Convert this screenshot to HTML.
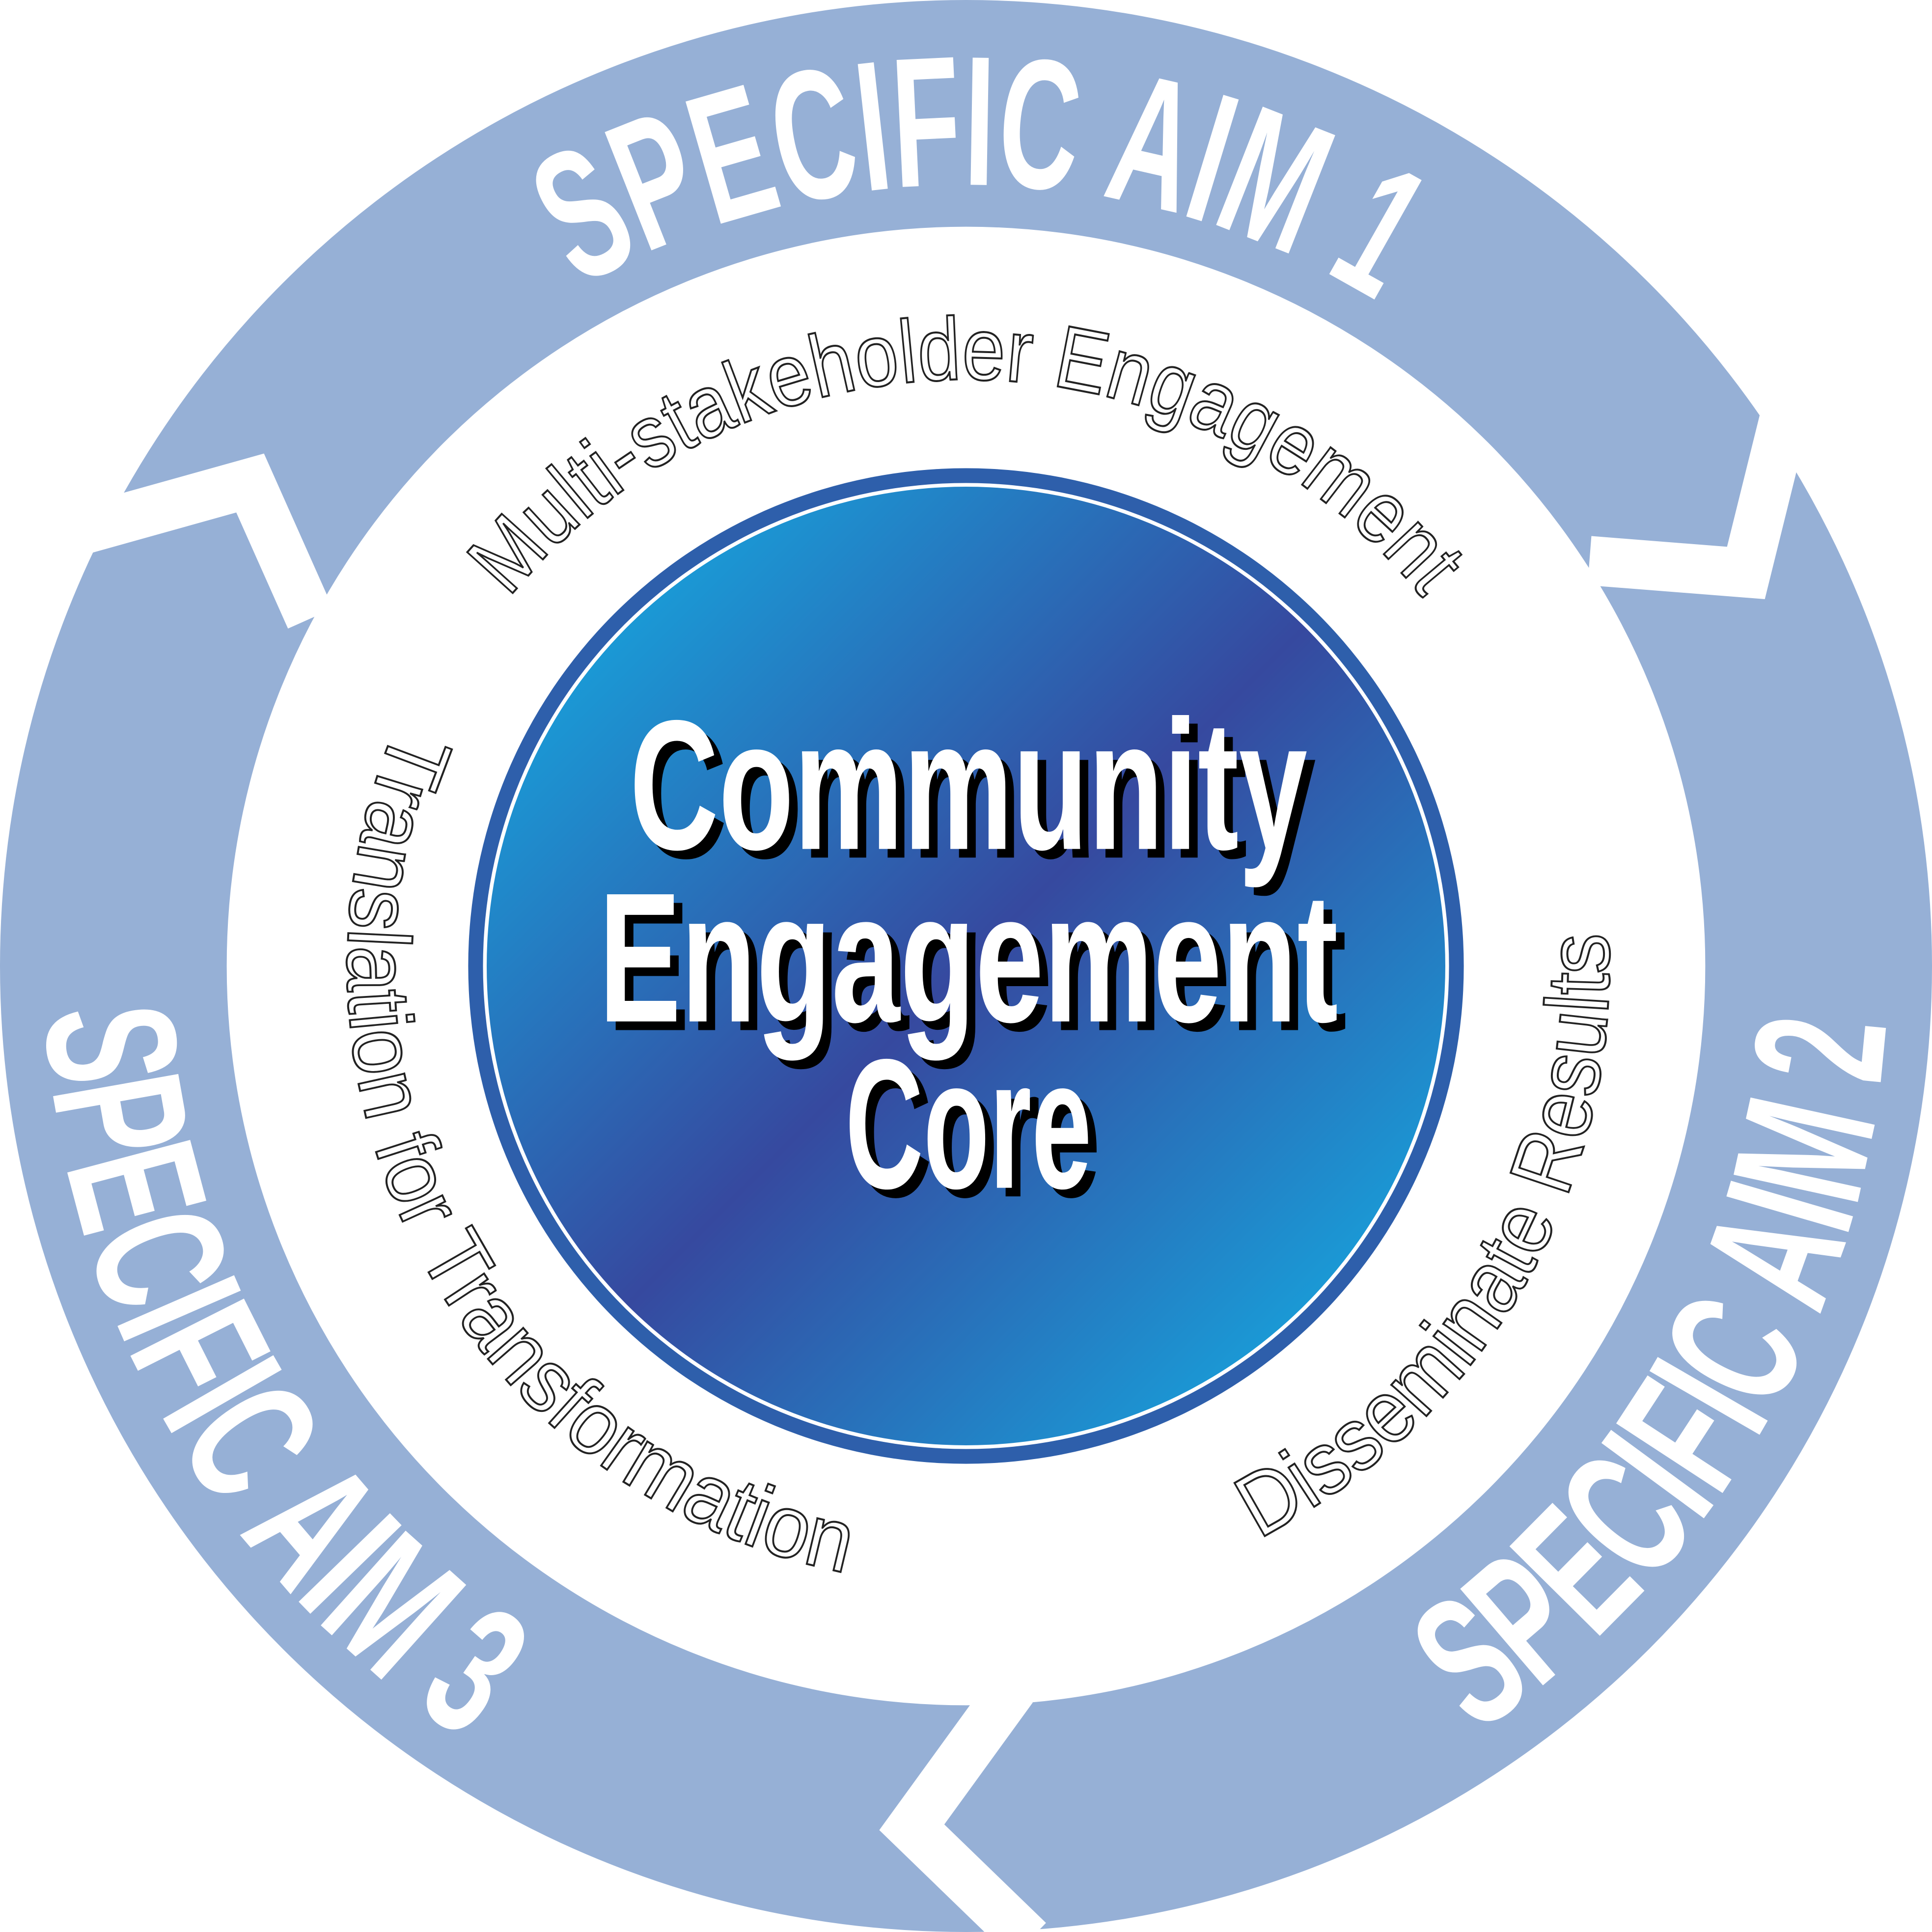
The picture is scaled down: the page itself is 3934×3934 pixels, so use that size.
<!DOCTYPE html>
<html><head><meta charset="utf-8"><style>
html,body{margin:0;padding:0;background:#fff;}
svg{display:block;}
.big{font-family:"Liberation Sans Narrow","Liberation Sans",sans-serif;font-weight:bold;fill:#fff;}
.outl{font-family:"Liberation Sans Narrow","Liberation Sans",sans-serif;fill:#fff;stroke:#222;stroke-width:1.6;}
</style></head><body>
<svg width="3934" height="3934" viewBox="0 0 1568 1568" xmlns="http://www.w3.org/2000/svg">
<defs>
<linearGradient id="g" x1="0" y1="0" x2="1" y2="1">
<stop offset="0.1" stop-color="#17a3dc"/><stop offset="0.5" stop-color="#36499f"/><stop offset="0.9" stop-color="#17a3dc"/>
</linearGradient>
<path id="p-aim1"/><path id="p-aim2"/><path id="p-aim3"/>
<path id="p-multi"/><path id="p-trans"/><path id="p-diss"/>
</defs>
<circle cx="784" cy="784" r="692" fill="none" stroke="#96b0d6" stroke-width="184"/>
<g fill="none" stroke="#fff" stroke-width="40" stroke-linejoin="miter" stroke-miterlimit="10">
<polyline points="60,432 203,392 252,502"/>
<polyline points="1448,340 1417,465 1290,455"/>
<polyline points="822,1370 740,1483 835,1575"/>
</g>
<circle cx="784" cy="784" r="404" fill="#2e5fab"/>
<circle cx="784" cy="784" r="392" fill="#fff"/>
<circle cx="784" cy="784" r="389" fill="url(#g)"/>

<text class="big" font-size="150"><textPath href="#p-aim1" startOffset="50%" text-anchor="middle" textLength="680" lengthAdjust="spacingAndGlyphs">SPECIFIC AIM 1</textPath></text>
<text class="big" font-size="150"><textPath href="#p-aim2" startOffset="50%" text-anchor="middle" textLength="690" lengthAdjust="spacingAndGlyphs">SPECIFIC AIM 2</textPath></text>
<text class="big" font-size="150"><textPath href="#p-aim3" startOffset="50%" text-anchor="middle" textLength="710" lengthAdjust="spacingAndGlyphs">SPECIFIC AIM 3</textPath></text>

<text class="outl" font-size="72"><textPath href="#p-multi" startOffset="50%" text-anchor="middle" textLength="850" lengthAdjust="spacingAndGlyphs">Multi-stakeholder Engagement</textPath></text>
<text class="outl" font-size="72"><textPath href="#p-trans" startOffset="50%" text-anchor="middle" textLength="890" lengthAdjust="spacingAndGlyphs">Translation for Transformation</textPath></text>
<text class="outl" font-size="72"><textPath href="#p-diss" startOffset="50%" text-anchor="middle" textLength="600" lengthAdjust="spacingAndGlyphs">Disseminate Results</textPath></text>

<g class="big" font-size="150" text-anchor="middle">
<g fill="#000" style="fill:#000">
<text x="793" y="696" textLength="550" lengthAdjust="spacingAndGlyphs" style="fill:#000">Community</text>
<text x="793" y="836" textLength="600" lengthAdjust="spacingAndGlyphs" style="fill:#000">Engagement</text>
<text x="793" y="971" textLength="200" lengthAdjust="spacingAndGlyphs" style="fill:#000">Core</text>
</g>
<text x="786" y="689" textLength="550" lengthAdjust="spacingAndGlyphs">Community</text>
<text x="786" y="829" textLength="600" lengthAdjust="spacingAndGlyphs">Engagement</text>
<text x="786" y="964" textLength="200" lengthAdjust="spacingAndGlyphs">Core</text>
</g>
</svg>
<script>
function pt(r,t){var a=t*Math.PI/180;return [784+r*Math.sin(a),784-r*Math.cos(a)];}
function arc(id,r,c,h,cw){
  var s=pt(r,cw?c-h:c+h),e=pt(r,cw?c+h:c-h);
  document.getElementById(id).setAttribute('d','M'+s[0]+','+s[1]+' A'+r+','+r+' 0 0,'+(cw?1:0)+' '+e[0]+','+e[1]);
}
arc('p-aim1',634,1,80,true);
arc('p-aim2',748,120,80,false);
arc('p-aim3',748,240,80,false);
arc('p-multi',476,0,80,true);
arc('p-trans',502,242,80,false);
arc('p-diss',522,120,80,false);
</script>
</body></html>
